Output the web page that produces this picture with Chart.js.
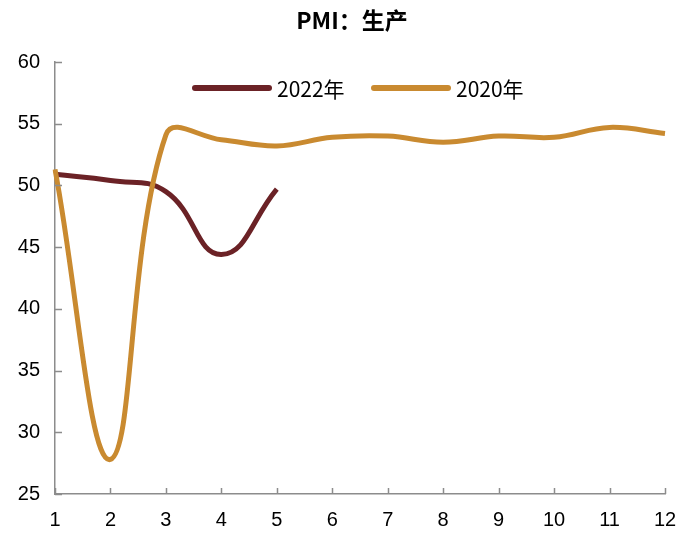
<!DOCTYPE html>
<html>
<head>
<meta charset="utf-8">
<script src="https://cdn.jsdelivr.net/npm/chart.js@4"></script>
<style>
  html, body { margin: 0; padding: 0; background: #fff; }
  #wrap { width: 700px; height: 545px; position: relative; }
</style>
</head>
<body>
<div id="wrap"><canvas id="pmi" width="700" height="545"></canvas></div>
<script>
// ── data ──
const titleText = 'PMI：生产';
const months = ['1', '2', '3', '4', '5', '6', '7', '8', '9', '10', '11', '12'];
const seriesNames = ['2022年', '2020年'];
const pmi2022 = [50.9, 50.4, 49.5, 44.4, 49.7];
const pmi2020 = [51.3, 27.8, 54.1, 53.7, 53.2, 53.9, 54.0, 53.5, 54.0, 53.9, 54.7, 54.2];
const yMin = 25, yMax = 60, yStep = 5;

const COL_2022 = '#6b2226';
const COL_2020 = '#c98a30';
const AXIS = '#8c8c8c';

// inward tick marks, like the Excel original
const tickMarks = {
  id: 'tickMarks',
  afterDraw(chart) {
    const { ctx, chartArea: a, scales } = chart;
    ctx.save();
    ctx.strokeStyle = AXIS;
    ctx.lineWidth = 1.5;
    ctx.beginPath();
    scales.x.ticks.forEach((t, i) => {
      const px = Math.round(scales.x.getPixelForTick(i)) + 0.5;
      ctx.moveTo(px, a.bottom);
      ctx.lineTo(px, a.bottom - 6);
    });
    scales.y.ticks.forEach((t, i) => {
      const py = Math.round(scales.y.getPixelForTick(i)) + 0.5;
      ctx.moveTo(a.left, py);
      ctx.lineTo(a.left + 7, py);
    });
    ctx.stroke();
    ctx.restore();
  },
};

// title + legend drawn by hand so the legend can sit inside the plot
const header = {
  id: 'header',
  afterDraw(chart) {
    const { ctx } = chart;
    ctx.save();
    ctx.fillStyle = '#000';
    ctx.font = 'bold 23px "Noto Sans CJK SC", sans-serif';
    ctx.textAlign = 'center';
    ctx.textBaseline = 'middle';
    ctx.fillText(titleText, 352, 20);

    const items = [
      { x: 195, color: COL_2022, text: seriesNames[0] },
      { x: 374, color: COL_2020, text: seriesNames[1] },
    ];
    ctx.font = '21px "Noto Sans CJK SC", sans-serif';
    ctx.textAlign = 'left';
    items.forEach(it => {
      ctx.strokeStyle = it.color;
      ctx.lineWidth = 6;
      ctx.lineCap = 'round';
      ctx.beginPath();
      ctx.moveTo(it.x, 88);
      ctx.lineTo(it.x + 74, 88);
      ctx.stroke();
      ctx.fillText(it.text, it.x + 82, 89);
    });
    ctx.restore();
  },
};

new Chart(document.getElementById('pmi'), {
  type: 'line',
  data: {
    labels: months,
    datasets: [
      {
        label: seriesNames[0],
        data: pmi2022,
        borderColor: COL_2022,
        borderWidth: 5,
        tension: 0.45,
        pointRadius: 0,
        order: 1,
      },
      {
        label: seriesNames[1],
        data: pmi2020,
        borderColor: COL_2020,
        borderWidth: 5,
        tension: 0.4,
        pointRadius: 0,
        order: 0,
      },
    ],
  },
  options: {
    responsive: false,
    animation: false,
    layout: { padding: { top: 62, right: 35, left: 0, bottom: 0 } },
    plugins: {
      legend: { display: false },
      title: { display: false },
      tooltip: { enabled: false },
    },
    scales: {
      x: {
        offset: false,
        grid: { display: false, drawTicks: false },
        border: { display: true, color: AXIS, width: 1.5 },
        ticks: {
          color: '#000',
          padding: 14,
          maxRotation: 0,
          autoSkip: false,
          font: { family: '"Liberation Sans Narrow", "Liberation Sans", Arial', size: 20 },
        },
        afterFit: s => { s.height = 51; },
      },
      y: {
        min: yMin,
        max: yMax,
        grid: { display: false, drawTicks: false },
        border: { display: true, color: AXIS, width: 1.5 },
        ticks: {
          stepSize: yStep,
          color: '#000',
          padding: 15,
          font: { family: '"Liberation Sans", Arial', size: 20 },
        },
        afterFit: s => { s.width = 55; },
      },
    },
  },
  plugins: [tickMarks, header],
});
</script>
</body>
</html>
